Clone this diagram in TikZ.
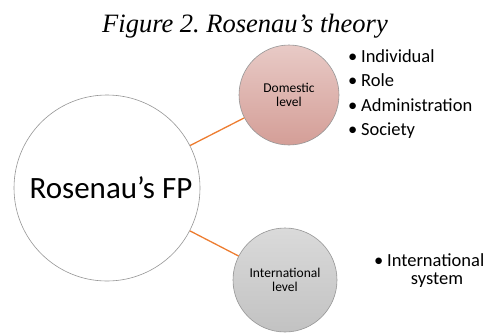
\documentclass[tikz,border=0pt]{standalone}
\usepackage{fontspec}
\setmainfont{Carlito}
\newfontfamily\titlefont{Liberation Serif}
\definecolor{linkorange}{RGB}{237,125,49}
\definecolor{domtop}{RGB}{232,202,198}
\definecolor{dombot}{RGB}{212,158,151}
\definecolor{inttop}{RGB}{218,218,218}
\definecolor{intbot}{RGB}{194,194,194}
\definecolor{rim}{RGB}{150,150,150}
\frenchspacing
\begin{document}
\begin{tikzpicture}[x=1pt, y=-1pt,
  level/.style={draw=rim, line width=0.6pt, circle, inner sep=0pt, align=center,
    font=\fontsize{13.5}{14}\selectfont},
  link/.style={draw=linkorange, line width=1.3pt},
  item/.style={inner sep=0pt, font=\fontsize{18.5}{22}\selectfont}]
   \useasboundingbox (0,0) rectangle (487,333);

   %titulo
   \node[inner sep=0pt, anchor=base, font=\titlefont\itshape\fontsize{26.5}{30}\selectfont] (title) at (245,32) {Figure 2. Rosenau’s theory};

   %circulo central
   \node[draw=rim, line width=0.6pt, circle, fill=white, minimum size=186pt, inner sep=0pt,
     font=\fontsize{31}{34}\selectfont] (fp) at (107,188) {\hspace{8pt}Rosenau’s FP};

   %niveis
   \node[level, minimum size=100pt, top color=domtop, bottom color=dombot] (dom) at (289,95) {Domestic\\level};
   \node[level, minimum size=104pt, top color=inttop, bottom color=intbot] (intl) at (285,280) {International\\level};

   \draw[link] (fp) -- (dom);
   \draw[link] (fp) -- (intl);

   %lista 1
   \foreach \txt [count=\i] in {Individual, Role, Administration, Society}
     \node[item, anchor=base west] (dom\i) at (348, 37.5+24.5*\i) {\textbullet\hspace{0.2em}\txt};

   %lista 2
   \node[item, anchor=base west] (intsys) at (374,266) {\textbullet\hspace{0.2em}International};
   \node[item, anchor=base] (intsys2) at (437,284) {system};
\end{tikzpicture}
\end{document}
